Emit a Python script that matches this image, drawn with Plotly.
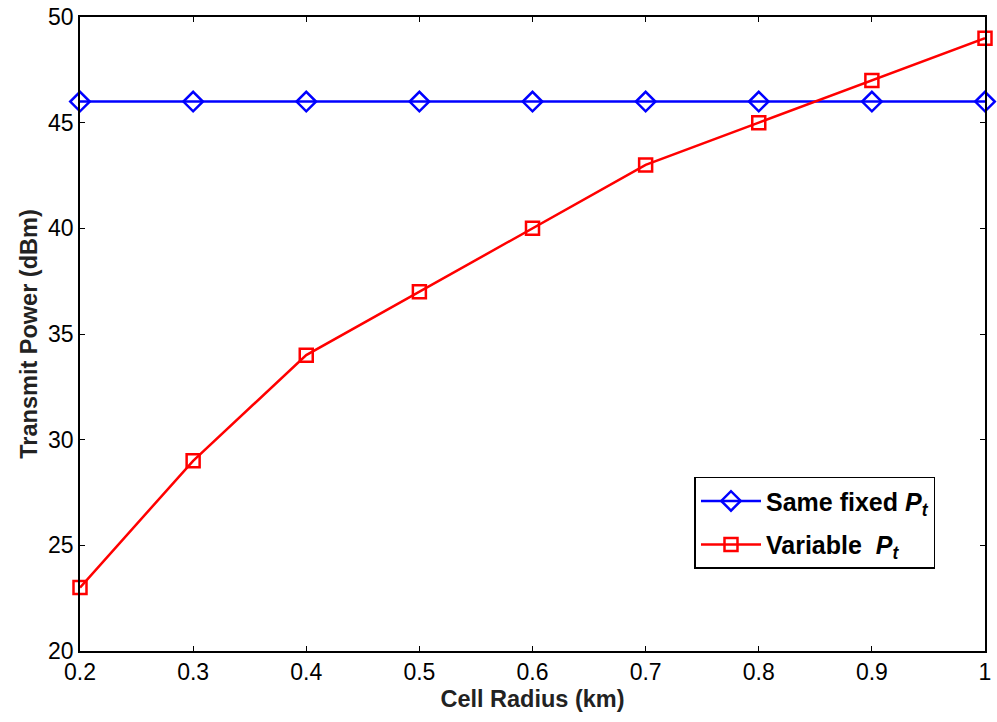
import plotly.graph_objects as go

radius = [0.2, 0.3, 0.4, 0.5, 0.6, 0.7, 0.8, 0.9, 1.0]
same_fixed = [46, 46, 46, 46, 46, 46, 46, 46, 46]
variable = [23, 29, 34, 37, 40, 43, 45, 47, 49]
x_ticks = [0.2, 0.3, 0.4, 0.5, 0.6, 0.7, 0.8, 0.9, 1.0]
x_labels = ["0.2", "0.3", "0.4", "0.5", "0.6", "0.7", "0.8", "0.9", "1"]
y_ticks = [20, 25, 30, 35, 40, 45, 50]

fig = go.Figure()
fig.add_trace(go.Scatter(
    x=radius, y=same_fixed, mode="lines+markers",
    name="<b>Same fixed <i>P</i><sub><i>t</i></sub></b>",
    legendgroup="a",
    line=dict(color="#0000ff", width=2.5),
    marker=dict(symbol="diamond-open", size=15, color="#0000ff", line=dict(width=2.5)),
    cliponaxis=False,
))
fig.add_trace(go.Scatter(
    x=radius, y=variable, mode="lines+markers",
    name="<b>Variable  <i>P</i><sub><i>t</i></sub></b>",
    legendgroup="b",
    line=dict(color="#ff0000", width=2.5),
    marker=dict(symbol="square-open", size=13, color="#ff0000", line=dict(width=2.5)),
    cliponaxis=False,
))

axis_common = dict(
    showgrid=False, zeroline=False, showline=True, linecolor="black", linewidth=1.5,
    mirror="ticks", ticks="inside", ticklen=5, tickcolor="black", automargin=False,
    tickfont=dict(family="Liberation Sans, Arial", size=23, color="black"),
)
fig.update_xaxes(range=[0.2, 1.0], tickvals=x_ticks, ticktext=x_labels,
                 title=dict(text="<b>Cell Radius (km)</b>", standoff=6,
                            font=dict(family="Liberation Sans, Arial", size=23.5, color="#222")),
                 **axis_common)
fig.update_yaxes(range=[20, 50], tickvals=y_ticks,
                 title=dict(text="<b>Transmit Power (dBm)</b>", standoff=4,
                            font=dict(family="Liberation Sans, Arial", size=23.5, color="#222")),
                 **axis_common)

fig.update_layout(
    width=997, height=722,
    margin=dict(l=80, r=12, t=17, b=71),
    plot_bgcolor="white", paper_bgcolor="white",
    showlegend=True,
    legend=dict(
        x=0.679, y=0.275, xanchor="left", yanchor="top",
        bgcolor="white", bordercolor="black", borderwidth=1.5,
        font=dict(family="Liberation Sans, Arial", size=25, color="black"),
        itemwidth=60, traceorder="grouped", tracegroupgap=8,
    ),
)

fig.write_html("out.html")
